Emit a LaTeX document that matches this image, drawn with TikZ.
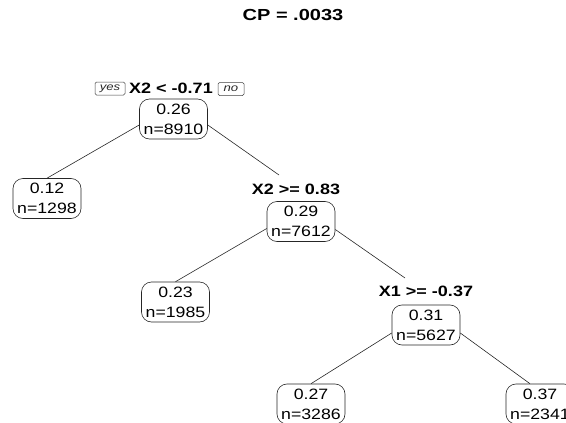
\documentclass[tikz,border=0pt]{standalone}
\usepackage{fontspec}
\setmainfont{Liberation Sans}[FakeStretch=1.18]
\newfontfamily\titlefont{Liberation Sans}[FakeStretch=1.25]
\newfontfamily\labfont{Liberation Sans}[FakeStretch=1.2]
\newfontfamily\ynfont{Liberation Sans}[FakeStretch=1.25]
\begin{document}
\begin{tikzpicture}[x=1pt,y=-1pt,
  leafbox/.style={draw=black!85, line width=0.6pt, rounded corners=10pt,
    minimum width=68pt, minimum height=40pt, inner sep=1pt, align=center,
    font=\fontsize{15}{20}\selectfont},
  splitlab/.style={font=\labfont\bfseries\fontsize{15}{17}\selectfont, inner sep=0pt},
  yn/.style={draw=black!75, line width=0.5pt, rounded corners=1.5pt,
    font=\ynfont\itshape\fontsize{10.5}{12}\selectfont, text=black!85,
    inner xsep=2pt, inner ysep=0pt, minimum height=13pt},
  conn/.style={draw=black!85, line width=0.6pt}]
\useasboundingbox (0,0) rectangle (566,423);

\node[font=\titlefont\bfseries\fontsize{16}{18}\selectfont] (title) at (293,15) {CP = .0033};

\node[splitlab] (lab1) at (171,88) {X2 < -0.71};
\node[yn, minimum width=30pt] (yes) at (110,88.5) {yes};
\node[yn, minimum width=26pt] (no) at (231,89) {no};
\node[leafbox] (root) at (173.5,119) {0.26\\n=8910};

\node[leafbox] (l1) at (47,198.5) {0.12\\n=1298};

\node[splitlab] (lab2) at (296,189) {X2 >= 0.83};
\node[leafbox] (n2) at (301,221.5) {0.29\\n=7612};

\node[leafbox] (l2) at (175.5,302) {0.23\\n=1985};

\node[splitlab] (lab3) at (426,291) {X1 >= -0.37};
\node[leafbox] (n3) at (426,325) {0.31\\n=5627};

\node[leafbox] (l3) at (311,404) {0.27\\n=3286};
\node[leafbox] (l4) at (540,404) {0.37\\n=2341};

\draw[conn] ([yshift=-6pt]root.west) -- (l1.north);
\draw[conn] ([yshift=-6pt]root.east) -- ([shift={(-17pt,14pt)}]lab2.center);
\draw[conn] ([yshift=-7pt]n2.west) -- (l2.north);
\draw[conn] ([yshift=-8pt]n2.east) -- ([shift={(-21pt,13pt)}]lab3.center);
\draw[conn] ([yshift=-8pt]n3.west) -- (l3.north);
\draw[conn] ([yshift=-8pt]n3.east) -- ([xshift=-10pt]l4.north);
\end{tikzpicture}
\end{document}
